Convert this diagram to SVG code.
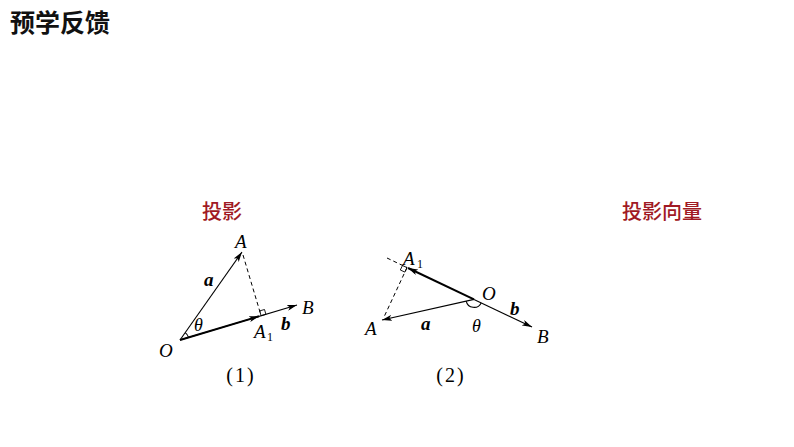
<svg xmlns="http://www.w3.org/2000/svg" width="794" height="447" viewBox="0 0 794 447">
<style>
.ln{stroke:#000;stroke-width:1.1;fill:none}
.thk{stroke:#000;stroke-width:2;fill:none}
.dash{stroke:#000;stroke-width:1;fill:none;stroke-dasharray:4 3}
.sq{stroke:#000;stroke-width:0.9;fill:none}
.lbl{font-family:"Liberation Serif",serif;font-style:italic;font-size:19px;fill:#000}
.vec{font-family:"Liberation Serif",serif;font-style:italic;font-weight:bold;font-size:19px;fill:#000}
.th{font-family:"Liberation Serif",serif;font-style:italic;font-size:18px;fill:#000}
.cap{font-family:"Liberation Serif",serif;font-size:20px;letter-spacing:2px;fill:#000;text-anchor:middle}
.sub{font-family:"Liberation Serif",serif;font-size:12px;fill:#000}
.red{font-family:"Noto Sans CJK SC",sans-serif;font-size:20px;font-weight:500;fill:#a01a24;text-anchor:middle}
.hdr{font-family:"Noto Sans CJK SC",sans-serif;font-size:25px;font-weight:bold;fill:#111}
</style>
<defs>
<marker id="ah" viewBox="0 0 10 6" refX="10" refY="3" markerWidth="10" markerHeight="6" markerUnits="userSpaceOnUse" orient="auto">
<path d="M0,0 L10,3 L0,6 L2.5,3 z" fill="#000"/>
</marker>
</defs>
<g id="header"><text class="hdr" x="10" y="32">预学反馈</text></g>
<g id="title1"><text class="red" x="222" y="219">投影</text></g>
<g id="title2"><text class="red" x="662" y="219">投影向量</text></g>
<g id="connectors">
<line class="ln" x1="180" y1="340" x2="242" y2="252" marker-end="url(#ah)"/>
<line class="ln" x1="180" y1="340" x2="297" y2="305" marker-end="url(#ah)"/>
<line class="thk" x1="180" y1="340" x2="259" y2="316.3" marker-end="url(#ah)"/>
<line class="dash" x1="243" y1="255" x2="261.1" y2="315.7"/>
<path class="sq" d="M261.1,315.7 L265.9,314.3 L264.5,309.5 L259.7,310.9 Z"/>
<path class="ln" d="M188.6,337.4 A9,9 0 0 0 185.2,332.6"/>
<line class="dash" x1="387" y1="258" x2="407" y2="267.6"/>
<line class="ln" x1="474" y1="299.4" x2="532" y2="327" marker-end="url(#ah)"/>
<line class="thk" x1="474" y1="299.4" x2="408" y2="268" marker-end="url(#ah)"/>
<line class="ln" x1="474" y1="299.4" x2="382" y2="320" marker-end="url(#ah)"/>
<line class="dash" x1="407" y1="267.6" x2="384" y2="317"/>
<path class="sq" d="M407,267.6 L402.5,265.5 L400.3,270 L404.9,272.1 Z"/>
<path class="ln" d="M481.2,302.9 A8,8 0 0 1 466.2,301.1"/>
</g>
<g id="fig1-labels">
<text class="lbl" x="235" y="248">A</text>
<text class="vec" x="204" y="286">a</text>
<text class="th" x="194" y="331">θ</text>
<text class="lbl" x="159" y="357">O</text>
<text class="lbl" x="254" y="338">A</text>
<text class="sub" x="267" y="341">1</text>
<text class="vec" x="281" y="330">b</text>
<text class="lbl" x="302" y="314">B</text>
<text class="cap" x="241" y="382">(1)</text>
</g>
<g id="fig2-labels">
<text class="lbl" x="403" y="265">A</text>
<text class="sub" x="417" y="268">1</text>
<text class="lbl" x="482" y="300">O</text>
<text class="vec" x="510" y="315">b</text>
<text class="lbl" x="537" y="343">B</text>
<text class="vec" x="421" y="330">a</text>
<text class="th" x="472" y="332">θ</text>
<text class="lbl" x="365" y="335">A</text>
<text class="cap" x="451" y="382">(2)</text>
</g>
</svg>
